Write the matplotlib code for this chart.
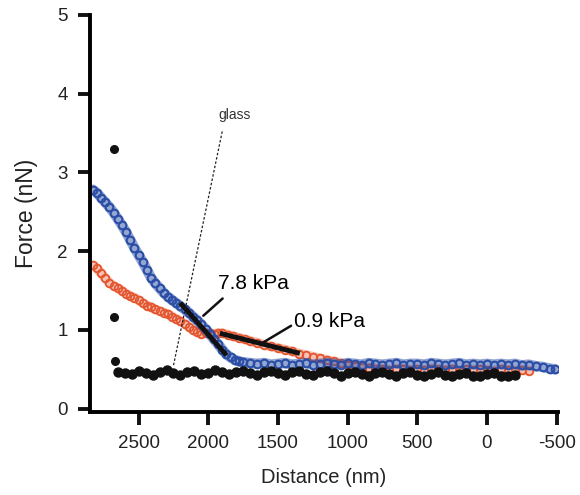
import matplotlib
matplotlib.use('Agg')
import matplotlib.pyplot as plt

plt.rcParams['font.family'] = ['Liberation Sans', 'DejaVu Sans']

# 7.8 kPa trace (blue)
blue_d = [2830, 2800, 2770, 2740, 2710, 2680, 2650, 2620, 2590, 2560,
          2530, 2500, 2470, 2440, 2410, 2380, 2350, 2320, 2290, 2260,
          2230, 2200, 2170, 2140, 2110, 2080, 2050, 2020, 1990, 1960,
          1930, 1900, 1870, 1840, 1810, 1780, 1750, 1700, 1650, 1600,
          1550, 1500, 1450, 1400, 1350, 1300, 1250, 1200, 1150, 1100,
          1050, 1000, 950, 900, 850, 800, 750, 700, 650, 600,
          550, 500, 450, 400, 350, 300, 250, 200, 150, 100,
          50, 0, -50, -100, -150, -200, -250, -300, -350, -400,
          -450, -490]
blue_f = [2.78, 2.74, 2.68, 2.62, 2.56, 2.49, 2.41, 2.33, 2.24, 2.14,
          2.04, 1.95, 1.86, 1.76, 1.66, 1.59, 1.53, 1.47, 1.42, 1.38,
          1.34, 1.30, 1.26, 1.22, 1.17, 1.12, 1.07, 1.01, 0.95, 0.88,
          0.82, 0.75, 0.69, 0.65, 0.62, 0.60, 0.59, 0.58, 0.57, 0.58,
          0.56, 0.57, 0.58, 0.56, 0.57, 0.58, 0.56, 0.57, 0.58, 0.57,
          0.56, 0.58, 0.57, 0.56, 0.58, 0.57, 0.56, 0.57, 0.58, 0.56,
          0.57, 0.57, 0.56, 0.58, 0.57, 0.56, 0.57, 0.58, 0.56, 0.57,
          0.56, 0.57, 0.56, 0.57, 0.56, 0.57, 0.55, 0.56, 0.54, 0.53,
          0.51, 0.50]

# 0.9 kPa trace (red)
red_d = [2830, 2800, 2770, 2740, 2710, 2680, 2650, 2620, 2590, 2560,
         2530, 2500, 2470, 2440, 2410, 2380, 2350, 2320, 2290, 2260,
         2230, 2200, 2170, 2140, 2110, 2080, 2050, 2020, 1990, 1960,
         1930, 1900, 1860, 1820, 1780, 1740, 1700, 1650, 1600, 1550,
         1500, 1450, 1400, 1350, 1300, 1250, 1200, 1150, 1100, 1050,
         1000, 950, 900, 850, 800, 750, 700, 650, 600, 550,
         500, 450, 400, 350, 300, 250, 200, 150, 100, 50,
         0, -50, -100, -150, -200, -250, -300]
red_f = [1.82, 1.78, 1.72, 1.66, 1.60, 1.56, 1.53, 1.50, 1.46, 1.43,
         1.41, 1.38, 1.34, 1.31, 1.29, 1.26, 1.24, 1.22, 1.20, 1.17,
         1.14, 1.11, 1.08, 1.04, 1.00, 0.97, 0.95, 0.96, 0.96, 0.95,
         0.96, 0.96, 0.94, 0.92, 0.90, 0.88, 0.86, 0.84, 0.81, 0.79,
         0.77, 0.75, 0.73, 0.70, 0.68, 0.66, 0.64, 0.62, 0.60, 0.58,
         0.56, 0.54, 0.53, 0.52, 0.51, 0.50, 0.49, 0.50, 0.51, 0.49,
         0.50, 0.49, 0.51, 0.50, 0.49, 0.50, 0.48, 0.50, 0.49, 0.50,
         0.49, 0.48, 0.50, 0.49, 0.48, 0.49, 0.48]

# glass trace (black)
glass_d = [2650, 2600, 2550, 2500, 2450, 2400, 2350, 2300, 2250, 2200,
           2150, 2100, 2050, 2000, 1950, 1900, 1850, 1800, 1750, 1700,
           1650, 1600, 1550, 1500, 1450, 1400, 1350, 1300, 1250, 1200,
           1150, 1100, 1050, 1000, 950, 900, 850, 800, 750, 700,
           650, 600, 550, 500, 450, 400, 350, 300, 250, 200,
           150, 100, 50, 0, -50, -100, -150, -200]
glass_f = [0.47, 0.45, 0.44, 0.48, 0.45, 0.43, 0.47, 0.49, 0.45, 0.43,
           0.46, 0.48, 0.44, 0.45, 0.49, 0.47, 0.44, 0.46, 0.48, 0.45,
           0.43, 0.46, 0.48, 0.45, 0.43, 0.47, 0.48, 0.44, 0.43, 0.46,
           0.48, 0.45, 0.42, 0.45, 0.47, 0.44, 0.42, 0.45, 0.47, 0.44,
           0.42, 0.45, 0.46, 0.43, 0.41, 0.44, 0.46, 0.43, 0.41, 0.44,
           0.45, 0.42, 0.41, 0.44, 0.45, 0.42, 0.41, 0.43]
glass_out_d = [2680, 2680, 2670]
glass_out_f = [3.30, 1.16, 0.60]

# fitted segments
fit_stiff_d = [2190, 1880]
fit_stiff_f = [1.32, 0.70]
fit_soft_d = [1900, 1360]
fit_soft_f = [0.95, 0.71]

# glass contact line
glass_line_d = [1900, 2250]
glass_line_f = [3.52, 0.55]

BLUE = '#2a4ea6'
RED = '#e4552e'
INK = '#111111'

fig = plt.figure(figsize=(5.8, 4.95), dpi=100)
fig.subplots_adjust(left=.155, bottom=.168, right=.962, top=.97)
ax = fig.add_subplot(111)

ax.plot(red_d, red_f, color=RED, lw=7, alpha=.35, solid_capstyle='round')
ax.plot(red_d, red_f, ls='none', marker='o', ms=5.5, mfc='none', mec=RED, mew=1.3)
ax.plot(blue_d, blue_f, color=BLUE, lw=7.5, alpha=.5, solid_capstyle='round')
ax.plot(blue_d, blue_f, ls='none', marker='o', ms=5.5, mfc='none', mec=BLUE, mew=1.5)
ax.plot(glass_d, glass_f, color=INK, lw=4)
ax.plot(glass_d, glass_f, ls='none', marker='o', ms=6.5, color=INK)
ax.plot(glass_out_d, glass_out_f, ls='none', marker='o', ms=5.5, color=INK)

ax.plot(fit_stiff_d, fit_stiff_f, color=INK, lw=3.5)
ax.plot(fit_soft_d, fit_soft_f, color=INK, lw=3.5)
ax.plot(glass_line_d, glass_line_f, color='#222222', lw=0.9, ls=(0, (2, 1.5)))

ax.text(1929, 3.73, 'glass', fontsize=10, va='center', ha='left', color='#333333')
ax.annotate('7.8 kPa', xy=(2036, 1.18), xytext=(1929, 1.59), fontsize=15,
            va='center', ha='left',
            arrowprops=dict(arrowstyle='-', color=INK, lw=1.8,
                            shrinkA=3, shrinkB=0, relpos=(0.15, 0)))
ax.annotate('0.9 kPa', xy=(1607, 0.84), xytext=(1386, 1.11), fontsize=15,
            va='center', ha='left',
            arrowprops=dict(arrowstyle='-', color=INK, lw=1.8,
                            shrinkA=0, shrinkB=0, relpos=(0, 0.35)))

ax.set_xlim(2850, -510)
ax.set_ylim(-0.04, 5)
ax.set_xticks([2500, 2000, 1500, 1000, 500, 0, -500])
ax.set_xticklabels(['2500', '2000', '1500', '1000', '500', '0', '-500'])
ax.set_yticks([0, 1, 2, 3, 4, 5])
ax.set_xlabel('Distance (nm)', fontsize=14.5, labelpad=11, color='#222222')
ax.set_ylabel('Force (nN)', fontsize=16.5, labelpad=14, color='#222222')

for side in ['top', 'right']:
    ax.spines[side].set_visible(False)
for side in ['left', 'bottom']:
    ax.spines[side].set_linewidth(2.8)
ax.spines['left'].set_bounds(-0.04, 5)
ax.tick_params(axis='both', width=2.8, length=9, labelsize=13.5, colors=INK)
ax.tick_params(axis='x', pad=8)
ax.tick_params(axis='y', pad=7)
for lab in ax.get_xticklabels() + ax.get_yticklabels():
    lab.set_color('#222222')

fig.savefig('out.png', dpi=100)
